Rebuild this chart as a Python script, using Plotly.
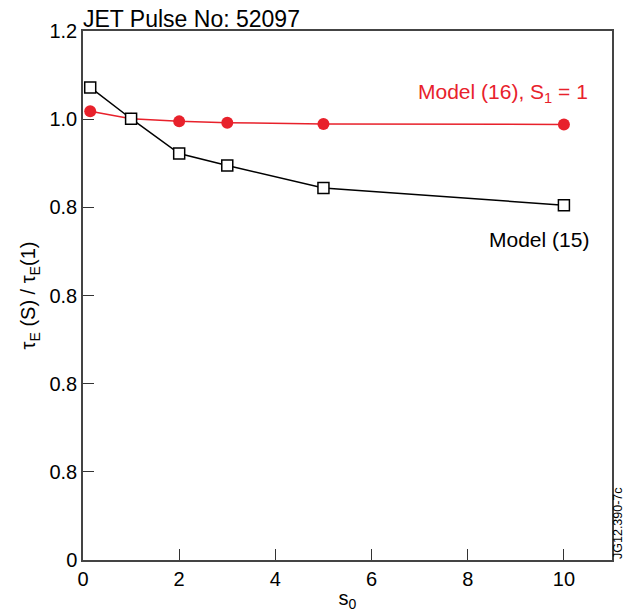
import plotly.graph_objects as go

s0_red = [0.15, 1, 2, 3, 5, 10]
tau_red = [1.018, 1.001, 0.995, 0.992, 0.989, 0.988]
s0_black = [0.15, 1, 2, 3, 5, 10]
tau_black = [1.072, 1.001, 0.922, 0.895, 0.844, 0.805]
y_tickvals = [0, 0.2, 0.4, 0.6, 0.8, 1.0, 1.2]
y_ticktext = ["0", "0.8", "0.8", "0.8", "0.8", "1.0", "1.2"]
x_tickvals = [0, 2, 4, 6, 8, 10]

RED = "#e8212b"
FONT = "Liberation Sans, Arial, sans-serif"

fig = go.Figure()
fig.add_trace(go.Scatter(
    x=s0_red, y=tau_red, mode="lines+markers",
    line=dict(color=RED, width=1.5),
    marker=dict(symbol="circle", size=12, color=RED),
    showlegend=False, cliponaxis=False))
fig.add_trace(go.Scatter(
    x=s0_black, y=tau_black, mode="lines+markers",
    line=dict(color="black", width=1.5),
    marker=dict(symbol="square", size=11, color="white", line=dict(color="black", width=1.5)),
    showlegend=False, cliponaxis=False))

fig.update_layout(
    width=624, height=612,
    margin=dict(l=83, r=12, t=31, b=52),
    paper_bgcolor="white", plot_bgcolor="white",
    font=dict(family=FONT, size=20, color="black"),
    xaxis=dict(range=[0, 11], tickvals=x_tickvals, ticks="inside", ticklen=11,
               tickcolor="#333", showline=True, linecolor="#444", linewidth=1.5,
               mirror=True, showgrid=False, zeroline=False, automargin=False,
               tickfont=dict(size=20),
               title=dict(text="s<sub>0</sub>", font=dict(size=20), standoff=4)),
    yaxis=dict(range=[0, 1.2], tickvals=y_tickvals, ticktext=y_ticktext,
               ticks="inside", ticklen=11, tickcolor="#333",
               showline=True, linecolor="#444", linewidth=1.5, mirror=True,
               showgrid=False, zeroline=False, automargin=False, tickfont=dict(size=20),
               title=dict(text="τ<sub>E</sub> (S) / τ<sub>E</sub>(1)", font=dict(size=20), standoff=8)),
)

fig.add_annotation(text="JET Pulse No: 52097", xref="paper", yref="paper",
                   x=0, y=1, xanchor="left", yanchor="bottom", showarrow=False,
                   font=dict(size=23), xshift=-2, yshift=-3)
fig.add_annotation(text="Model (16), S<sub>1</sub> = 1", xref="x", yref="y",
                   x=10.54, y=1.06, xanchor="right", yanchor="middle", showarrow=False,
                   font=dict(size=21, color=RED))
fig.add_annotation(text="Model (15)", xref="x", yref="y",
                   x=10.56, y=0.728, xanchor="right", yanchor="middle", showarrow=False,
                   font=dict(size=21, color="black"))
fig.add_annotation(text="JG12.390-7c", xref="paper", yref="paper",
                   x=1, y=0, xanchor="center", yanchor="bottom", textangle=-90,
                   showarrow=False, font=dict(size=12.5), borderpad=0, xshift=6)

fig.write_html("out.html", config={"displayModeBar": False},
               post_script="document.body.style.margin='0';document.body.style.overflow='hidden';")
